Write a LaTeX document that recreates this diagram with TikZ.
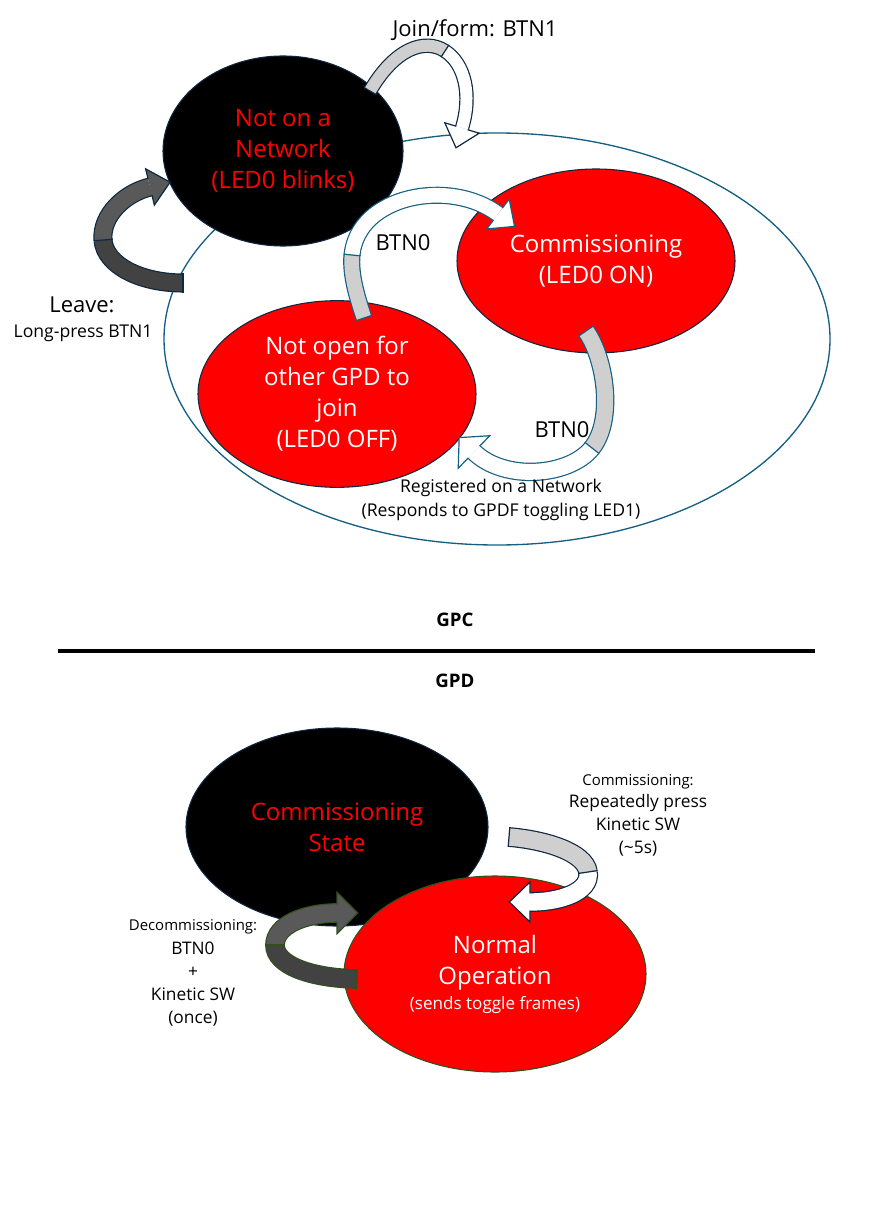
\documentclass[tikz,border=0pt]{standalone}
\usepackage{fontspec}
\setmainfont{Open Sans}
\usetikzlibrary{shapes.geometric,positioning}

\definecolor{navyline}{RGB}{14,40,65}
\definecolor{tealline}{RGB}{21,96,130}
\definecolor{leafline}{RGB}{50,80,30}
\definecolor{bandgray}{RGB}{207,207,207}
\definecolor{darkband}{RGB}{89,89,89}
\definecolor{darkerband}{RGB}{66,66,66}

\newcommand\bigtxt{\fontsize{18}{23.25}\selectfont}
\newcommand\midtxt{\fontsize{16.5}{20}\selectfont}
\newcommand\smalltxt{\fontsize{13.2}{18}\selectfont}
\newcommand\tinytxt{\fontsize{11.2}{14}\selectfont}
% head of a band arrow: [half width], colour, fill, base point, angle, band width
\newcommand\bandhead[6][14pt]{\filldraw[#2, fill=#3, line width=0.9pt, shift={#4}, rotate=#5]
    (0pt,-#6/2) -- (0pt,-#1) -- (15.5pt,0pt) -- (0pt,#1) -- (0pt,#6/2);}
% flat end of a band: colour, point, angle, band width
\newcommand\bandcut[4]{\draw[#1, line width=0.9pt, shift={#2}, rotate=#3]
    (0pt,-#4/2-0.9pt) -- (0pt,#4/2+0.9pt);}

\begin{document}
\begin{tikzpicture}[x=0.75pt, y=-0.75pt,
    state/.style={ellipse, inner sep=0pt, align=center, line width=0.8pt, font=\bigtxt},
    txt/.style={align=center, inner sep=0pt},
    band/.style n args={3}{draw=#1, double=#2, double distance=#3, line width=0.9pt}]
    \useasboundingbox (0,0) rectangle (878,1230);

    % GPC
    \node[ellipse, draw=tealline, line width=1pt, minimum width=499.5pt, minimum height=309pt] (reg) at (497,339) {};
    \node[state, fill=black, draw=navyline, text=red, minimum width=180pt, minimum height=142.5pt] (net) at (283,151) {Not on a\\Network\\(LED0 blinks)};
    \node[state, fill=red, draw=navyline, text=white, minimum width=208.5pt, minimum height=138pt] (comm) at (596,261) {Commissioning\\(LED0 ON)};
    \node[state, fill=red, draw=navyline, text=white, minimum width=208.5pt, minimum height=140pt] (idle) at (337,394) {Not open for\\other GPD to\\join\\(LED0 OFF)};

    \draw[band={navyline}{bandgray}{9pt}] (370,91) .. controls (395,48) and (425,38) .. (445,51);
    \draw[band={navyline}{white}{9pt}] (445,51) .. controls (465,64) and (472,95) .. (462,128);
    \bandcut{navyline}{(370,91)}{59.8}{9pt}
    \bandcut{navyline}{(445,51)}{-33}{9pt}
    \bandhead[13.5pt]{navyline}{white}{(462,128)}{-106.9}{9pt}

    \draw[band={navyline}{darkerband}{12.5pt}] (183,283) .. controls (140,283) and (105,265) .. (103,240);
    \draw[band={navyline}{darkband}{12.5pt}] (103,240) .. controls (101,215) and (125,193) .. (150,187);
    \bandcut{navyline}{(183,283)}{180}{12.5pt}
    \bandcut{navyline}{(103,240)}{94.6}{12.5pt}
    \bandhead{navyline}{darkband}{(150,187)}{13.5}{12.5pt}

    \draw[band={tealline}{bandgray}{11pt}] (364,318) .. controls (358,300) and (350,275) .. (352,255);
    \draw[band={tealline}{white}{11pt}] (352,255) .. controls (358,195) and (450,178) .. (498,214);
    \bandcut{tealline}{(364,318)}{108.4}{11pt}
    \bandcut{tealline}{(352,255)}{84.3}{11pt}
    \bandhead{tealline}{white}{(498,214)}{-36.9}{11pt}

    \draw[band={tealline}{bandgray}{12pt}] (586,331) .. controls (606,360) and (614,420) .. (592,448);
    \draw[band={tealline}{white}{12pt}] (592,448) .. controls (570,476) and (505,482) .. (474,452);
    \bandcut{tealline}{(586,331)}{-55.4}{12pt}
    \bandcut{tealline}{(592,448)}{-128.2}{12pt}
    \bandhead[17pt]{tealline}{white}{(474,452)}{135.9}{12pt}

    \node[font=\midtxt, inner sep=0pt] (join) at (475,30) {Join/form: BTN1};
    \node[font=\midtxt, inner sep=0pt] (leave) at (82,305) {Leave:};
    \node[font=\smalltxt, inner sep=0pt] (leavekey) at (83,333) {Long-press BTN1};
    \node[font=\midtxt, inner sep=0pt] (btnup) at (403,243) {BTN0};
    \node[font=\midtxt, inner sep=0pt] (btndown) at (562,430) {BTN0};
    \node[txt, font=\smalltxt] (regtxt) at (501,500) {Registered on a Network\\(Responds to GPDF toggling LED1)};

    % divider
    \node[font=\fontsize{14}{17}\selectfont\bfseries, inner sep=0pt] (gpc) at (455,620) {GPC};
    \coordinate (ruleL) at (58,651);
    \coordinate (ruleR) at (815,651);
    \draw[line width=2.4pt] (ruleL) -- (ruleR);
    \node[font=\fontsize{14}{17}\selectfont\bfseries, inner sep=0pt] (gpd) at (455,681) {GPD};

    % GPD
    \node[state, fill=black, draw=navyline, text=red, minimum width=226.5pt, minimum height=148.5pt] (cstate) at (337,827) {Commissioning\\State};
    \node[state, fill=red, draw=leafline, text=white, minimum width=226.5pt, minimum height=147pt] (normal) at (495,974) {Normal\\Operation\\[-4.5pt]{\fontsize{12.8}{15}\selectfont (sends toggle frames)}};

    \draw[band={navyline}{bandgray}{13pt}] (509,837) .. controls (545,840) and (585,852) .. (588,872);
    \draw[band={navyline}{white}{13pt}] (588,872) .. controls (591,892) and (560,902) .. (530,902);
    \bandcut{navyline}{(509,837)}{-4.8}{13pt}
    \bandcut{navyline}{(588,872)}{-81.5}{13pt}
    \bandhead[15pt]{navyline}{white}{(530,902)}{180}{13pt}

    \draw[band={leafline}{darkerband}{13pt}] (357,979) .. controls (310,978) and (275,965) .. (275,945);
    \draw[band={leafline}{darkband}{13pt}] (275,945) .. controls (275,925) and (305,913) .. (337,913);
    \bandcut{leafline}{(357,979)}{178.8}{13pt}
    \bandcut{leafline}{(275,945)}{90}{13pt}
    \bandhead[15.5pt]{leafline}{darkband}{(337,913)}{0}{13pt}

    \node[txt, font=\fontsize{13}{17}\selectfont] (commkey) at (638,815) {{\tinytxt Commissioning:}\\Repeatedly press\\Kinetic SW\\(\textasciitilde5s)};
    \node[txt, font=\fontsize{13}{17.3}\selectfont] (decommkey) at (193,973) {{\tinytxt Decommissioning:}\\BTN0\\+\\Kinetic SW\\(once)};
\end{tikzpicture}
\end{document}
